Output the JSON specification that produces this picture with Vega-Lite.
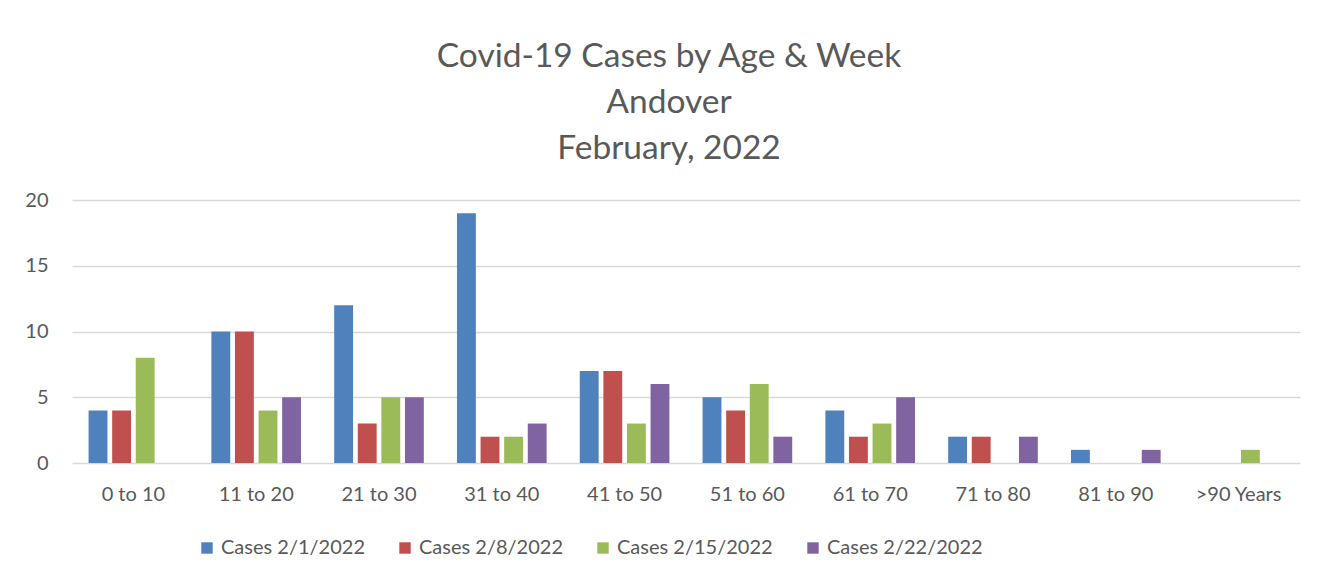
{
  "$schema": "https://vega.github.io/schema/vega-lite/v6.json",
  "autosize": {"type": "none"},
  "padding": {"left": 72, "top": 200, "right": 27, "bottom": 116},
  "width": 1228,
  "height": 263,
  "background": "white",
  "title": {
    "text": ["Covid-19 Cases by Age & Week", "Andover", "February, 2022"],
    "anchor": "middle",
    "dx": -17,
    "fontSize": 33.5,
    "font": "Lato",
    "fontWeight": "normal",
    "color": "#595959",
    "lineHeight": 46,
    "offset": 24
  },
  "data": {
    "values": [
      {"age": "0 to 10", "week": "Cases 2/1/2022", "cases": 4},
      {"age": "0 to 10", "week": "Cases 2/8/2022", "cases": 4},
      {"age": "0 to 10", "week": "Cases 2/15/2022", "cases": 8},
      {"age": "0 to 10", "week": "Cases 2/22/2022", "cases": 0},
      {"age": "11 to 20", "week": "Cases 2/1/2022", "cases": 10},
      {"age": "11 to 20", "week": "Cases 2/8/2022", "cases": 10},
      {"age": "11 to 20", "week": "Cases 2/15/2022", "cases": 4},
      {"age": "11 to 20", "week": "Cases 2/22/2022", "cases": 5},
      {"age": "21 to 30", "week": "Cases 2/1/2022", "cases": 12},
      {"age": "21 to 30", "week": "Cases 2/8/2022", "cases": 3},
      {"age": "21 to 30", "week": "Cases 2/15/2022", "cases": 5},
      {"age": "21 to 30", "week": "Cases 2/22/2022", "cases": 5},
      {"age": "31 to 40", "week": "Cases 2/1/2022", "cases": 19},
      {"age": "31 to 40", "week": "Cases 2/8/2022", "cases": 2},
      {"age": "31 to 40", "week": "Cases 2/15/2022", "cases": 2},
      {"age": "31 to 40", "week": "Cases 2/22/2022", "cases": 3},
      {"age": "41 to 50", "week": "Cases 2/1/2022", "cases": 7},
      {"age": "41 to 50", "week": "Cases 2/8/2022", "cases": 7},
      {"age": "41 to 50", "week": "Cases 2/15/2022", "cases": 3},
      {"age": "41 to 50", "week": "Cases 2/22/2022", "cases": 6},
      {"age": "51 to 60", "week": "Cases 2/1/2022", "cases": 5},
      {"age": "51 to 60", "week": "Cases 2/8/2022", "cases": 4},
      {"age": "51 to 60", "week": "Cases 2/15/2022", "cases": 6},
      {"age": "51 to 60", "week": "Cases 2/22/2022", "cases": 2},
      {"age": "61 to 70", "week": "Cases 2/1/2022", "cases": 4},
      {"age": "61 to 70", "week": "Cases 2/8/2022", "cases": 2},
      {"age": "61 to 70", "week": "Cases 2/15/2022", "cases": 3},
      {"age": "61 to 70", "week": "Cases 2/22/2022", "cases": 5},
      {"age": "71 to 80", "week": "Cases 2/1/2022", "cases": 2},
      {"age": "71 to 80", "week": "Cases 2/8/2022", "cases": 2},
      {"age": "71 to 80", "week": "Cases 2/15/2022", "cases": 0},
      {"age": "71 to 80", "week": "Cases 2/22/2022", "cases": 2},
      {"age": "81 to 90", "week": "Cases 2/1/2022", "cases": 1},
      {"age": "81 to 90", "week": "Cases 2/8/2022", "cases": 0},
      {"age": "81 to 90", "week": "Cases 2/15/2022", "cases": 0},
      {"age": "81 to 90", "week": "Cases 2/22/2022", "cases": 1},
      {"age": ">90 Years", "week": "Cases 2/1/2022", "cases": 0},
      {"age": ">90 Years", "week": "Cases 2/8/2022", "cases": 0},
      {"age": ">90 Years", "week": "Cases 2/15/2022", "cases": 1},
      {"age": ">90 Years", "week": "Cases 2/22/2022", "cases": 0}
    ]
  },
  "mark": {"type": "bar"},
  "encoding": {
    "x": {
      "field": "age",
      "type": "nominal",
      "sort": null,
      "scale": {"paddingInner": 0.27, "paddingOuter": 0.135},
      "axis": {
        "title": null,
        "labelAngle": 0,
        "labelFontSize": 20,
        "labelFont": "Lato",
        "labelColor": "#595959",
        "labelPadding": 21,
        "ticks": false,
        "domain": false,
        "grid": false
      }
    },
    "xOffset": {
      "field": "week",
      "type": "nominal",
      "sort": ["Cases 2/1/2022", "Cases 2/8/2022", "Cases 2/15/2022", "Cases 2/22/2022"],
      "scale": {"paddingInner": 0.2, "paddingOuter": 0}
    },
    "y": {
      "field": "cases",
      "type": "quantitative",
      "scale": {"domain": [0, 20]},
      "axis": {
        "title": null,
        "values": [0, 5, 10, 15, 20],
        "labelFontSize": 20,
        "labelFont": "Lato",
        "labelColor": "#595959",
        "labelPadding": 24,
        "ticks": false,
        "domain": false,
        "gridColor": "#d9d9d9",
        "gridWidth": 1.5
      }
    },
    "color": {
      "field": "week",
      "type": "nominal",
      "sort": ["Cases 2/1/2022", "Cases 2/8/2022", "Cases 2/15/2022", "Cases 2/22/2022"],
      "scale": {
        "domain": ["Cases 2/1/2022", "Cases 2/8/2022", "Cases 2/15/2022", "Cases 2/22/2022"],
        "range": ["#4F81BD", "#C0504D", "#9BBB59", "#8064A2"]
      },
      "legend": {
        "title": null,
        "orient": "none",
        "direction": "horizontal",
        "legendX": 125,
        "legendY": 338,
        "symbolType": "square",
        "symbolSize": 130,
        "symbolStrokeWidth": 0,
        "labelFontSize": 20,
        "labelFont": "Lato",
        "labelColor": "#595959",
        "labelOffset": 4,
        "columnPadding": 30
      }
    }
  },
  "config": {
    "view": {"stroke": null}
  }
}
